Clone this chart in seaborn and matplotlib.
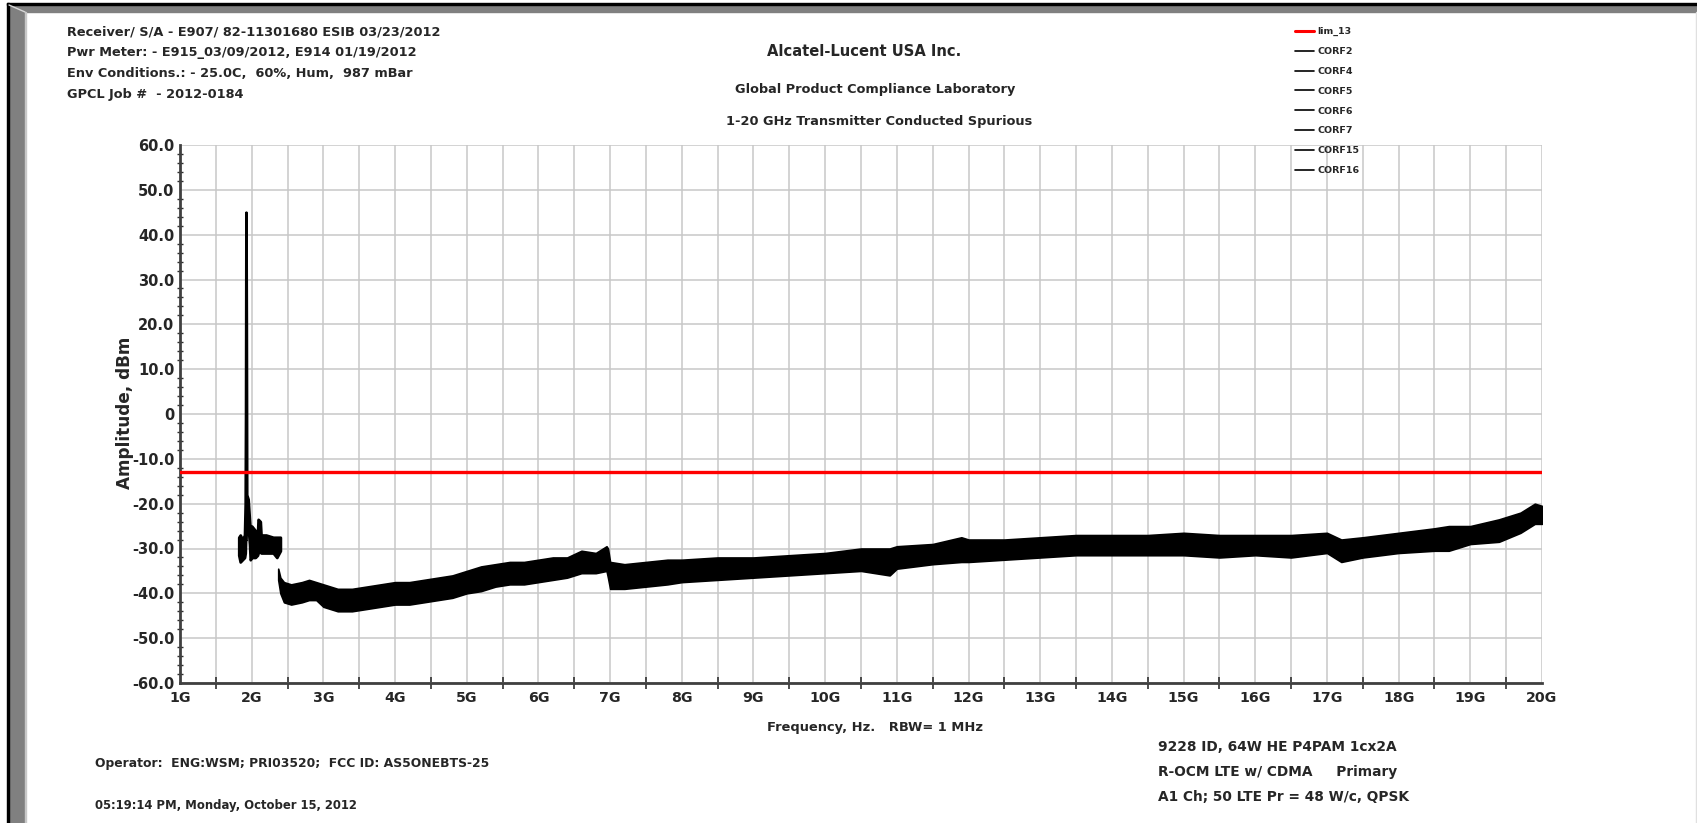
import matplotlib
matplotlib.use("Agg")
import matplotlib.pyplot as plt
from matplotlib.lines import Line2D
from matplotlib.patches import Rectangle
from matplotlib.ticker import MultipleLocator
import pandas as pd
import seaborn as sns

# Data (GHz / dBm) - envelope of the noisy sweep trace
freq_seg1 = [1.82, 1.84, 1.87, 1.90, 1.91, 1.915, 1.92, 1.925, 1.93, 1.95, 1.97, 1.98,
             2.00, 2.05, 2.08, 2.09, 2.12, 2.13, 2.20, 2.30, 2.35, 2.40]
upper_seg1 = [-27.5, -27.0, -28.0, -27.0, -20.0, 0.0, 45.0, 20.0, -18.0, -19.0, -24.0, -26.0,
              -25.0, -26.0, -27.0, -23.5, -24.0, -27.0, -27.0, -27.5, -27.5, -27.5]
lower_seg1 = [-31.5, -33.0, -32.5, -32.0, -31.0, -28.0, -28.0, -25.0, -26.0, -25.0, -29.0, -32.5,
              -32.0, -32.0, -31.5, -31.0, -30.0, -31.0, -31.0, -31.0, -32.0, -30.5]

freq_seg2 = [2.37, 2.40, 2.45, 2.55, 2.70, 2.80, 2.90, 3.00, 3.20, 3.40, 3.60, 3.80,
             4.00, 4.20, 4.40, 4.60, 4.80, 5.00, 5.20, 5.40, 5.60, 5.80, 6.00, 6.20,
             6.40, 6.60, 6.80, 6.95, 6.97, 7.00, 7.20, 7.50, 7.80, 8.00, 8.50, 9.00,
             9.50, 10.00, 10.50, 10.90, 11.00, 11.50, 11.90, 12.00, 12.50, 13.00, 13.50, 14.00,
             14.50, 15.00, 15.50, 16.00, 16.50, 17.00, 17.20, 17.50, 18.00, 18.50, 18.70, 19.00,
             19.40, 19.70, 19.90, 20.00]
upper_seg2 = [-34.5, -36.5, -37.5, -38.0, -37.5, -37.0, -37.5, -38.0, -39.0, -39.0, -38.5, -38.0,
              -37.5, -37.5, -37.0, -36.5, -36.0, -35.0, -34.0, -33.5, -33.0, -33.0, -32.5, -32.0,
              -32.0, -30.5, -31.0, -29.5, -30.0, -33.0, -33.5, -33.0, -32.5, -32.5, -32.0, -32.0,
              -31.5, -31.0, -30.0, -30.0, -29.5, -29.0, -27.5, -28.0, -28.0, -27.5, -27.0, -27.0,
              -27.0, -26.5, -27.0, -27.0, -27.0, -26.5, -28.0, -27.5, -26.5, -25.5, -25.0, -25.0,
              -23.5, -22.0, -20.0, -20.5]
lower_seg2 = [-37.0, -40.0, -42.0, -42.5, -42.0, -41.5, -41.5, -43.0, -44.0, -44.0, -43.5, -43.0,
              -42.5, -42.5, -42.0, -41.5, -41.0, -40.0, -39.5, -38.5, -38.0, -38.0, -37.5, -37.0,
              -36.5, -35.5, -35.5, -35.0, -36.5, -39.0, -39.0, -38.5, -38.0, -37.5, -37.0, -36.5,
              -36.0, -35.5, -35.0, -36.0, -34.5, -33.5, -33.0, -33.0, -32.5, -32.0, -31.5, -31.5,
              -31.5, -31.5, -32.0, -31.5, -32.0, -31.0, -33.0, -32.0, -31.0, -30.5, -30.5, -29.0,
              -28.5, -26.5, -24.5, -24.5]

limit_freq = [1.0, 20.0]
limit_level = [-13.0, -13.0]

x_ticks = list(range(1, 21))
x_tick_labels = [f"{g}G" for g in x_ticks]
y_ticks = list(range(-60, 61, 10))
y_tick_labels = ["0" if v == 0 else f"{v:.1f}" for v in y_ticks]

legend_labels = ["lim_13", "CORF2", "CORF4", "CORF5", "CORF6", "CORF7", "CORF15", "CORF16"]

header_left = ["Receiver/ S/A - E907/ 82-11301680 ESIB 03/23/2012",
               "Pwr Meter: - E915_03/09/2012, E914 01/19/2012",
               "Env Conditions.: - 25.0C,  60%, Hum,  987 mBar",
               "GPCL Job #  - 2012-0184"]
footer_right = ["9228 ID, 64W HE P4PAM 1cx2A",
                "R-OCM LTE w/ CDMA     Primary",
                "A1 Ch; 50 LTE Pr = 48 W/c, QPSK"]

W, H = 1697, 823


def fx(px):
    return px / W


def fy(py):
    return 1 - py / H


def main():
    sns.set_theme(style="white")
    plt.rcParams['font.family'] = ['DejaVu Sans']
    plt.rcParams['font.weight'] = 'bold'

    fig = plt.figure(figsize=(W / 100, H / 100), dpi=100)
    fig.patch.set_facecolor('white')

    # page frame (gray bevel on left / top)
    tf = fig.transFigure
    fig.patches.append(Rectangle((fx(9), 0), fx(16), fy(5), transform=tf,
                                 color='#808080', zorder=0))
    fig.patches.append(Rectangle((fx(9), fy(12)), 1, 7 / H, transform=tf,
                                 color='#808080', zorder=0))
    fig.patches.append(Rectangle((fx(24.5), 0), fx(1.2), fy(12), transform=tf,
                                 color='#c8c8c8', zorder=0))
    fig.patches.append(Rectangle((fx(7), 0), fx(2), fy(3), transform=tf,
                                 color='black', zorder=1))
    fig.patches.append(Rectangle((fx(7), fy(5)), 1, 2 / H, transform=tf,
                                 color='black', zorder=1))
    fig.patches.append(Rectangle((fx(1695.5), 0), fx(1.5), fy(12), transform=tf,
                                 color='#e0e0e0', zorder=0))
    fig.lines.append(Line2D([fx(9), fx(25)], [fy(5), fy(12)], transform=tf,
                            color='#d8d8d8', lw=1))

    ax = fig.add_axes([fx(180), fy(683), fx(1542 - 180), (683 - 145) / H])

    # sweep trace envelopes
    ax.fill_between(freq_seg1, lower_seg1, upper_seg1, color='black', lw=2.0, zorder=3)
    ax.fill_between(freq_seg2, lower_seg2, upper_seg2, color='black', lw=1.2, zorder=3)

    limit_df = pd.DataFrame({'freq': limit_freq, 'amp': limit_level})
    sns.lineplot(data=limit_df, x='freq', y='amp', color='#ff0000', lw=2.4, ax=ax, zorder=4)

    ax.set_xlim(1, 20)
    ax.set_ylim(-60, 60)
    ax.set_xticks(x_ticks)
    ax.set_xticklabels(x_tick_labels)
    ax.set_yticks(y_ticks)
    ax.set_yticklabels(y_tick_labels)
    ax.xaxis.set_minor_locator(MultipleLocator(0.5))
    ax.yaxis.set_minor_locator(MultipleLocator(2))
    ax.grid(True, which='major', axis='y', color='#c8c8c8', lw=1.1)
    ax.grid(True, which='both', axis='x', color='#c8c8c8', lw=1.1)
    ax.set_axisbelow(True)
    ax.set_xlabel('')
    ax.set_ylabel('')

    for side in ['top', 'right']:
        ax.spines[side].set_visible(False)
    for side in ['left', 'bottom']:
        ax.spines[side].set_color('#404040')
        ax.spines[side].set_linewidth(2)

    ax.tick_params(axis='both', which='major', direction='inout', length=8, width=1.2,
                   color='#303030')
    ax.tick_params(axis='y', which='minor', direction='inout', length=5, width=1,
                   color='#303030', left=True)
    ax.tick_params(axis='x', which='minor', direction='inout', length=8, width=1.2,
                   color='#303030', bottom=True)
    ax.tick_params(axis='x', which='major', pad=2, labelsize=10.2)
    ax.tick_params(axis='y', which='major', pad=0, labelsize=10.5)
    for lab in ax.get_xticklabels() + ax.get_yticklabels():
        lab.set_fontweight('bold')

    # header text
    for i, line in enumerate(header_left):
        fig.text(fx(67), fy(32 + i * 20.7), line, fontsize=9.3, fontweight='bold',
                 va='center', ha='left')
    fig.text(fx(864), fy(51), 'Alcatel-Lucent USA Inc.', fontsize=10.6, fontweight='bold',
             va='center', ha='center')
    fig.text(fx(875), fy(90), 'Global Product Compliance Laboratory', fontsize=9.3,
             fontweight='bold', va='center', ha='center')
    fig.text(fx(879), fy(122), '1-20 GHz Transmitter Conducted Spurious', fontsize=9.3,
             fontweight='bold', va='center', ha='center')

    # axis labels
    fig.text(fx(125), fy(413), 'Amplitude, dBm', fontsize=12.2, fontweight='bold',
             rotation=90, va='center', ha='center')
    fig.text(fx(875), fy(727), 'Frequency, Hz.   RBW= 1 MHz', fontsize=9.4,
             fontweight='bold', va='center', ha='center')

    # footer text
    fig.text(fx(95), fy(764), 'Operator:  ENG:WSM; PRI03520;  FCC ID: AS5ONEBTS-25',
             fontsize=8.9, fontweight='bold', va='center', ha='left')
    fig.text(fx(95), fy(806), '05:19:14 PM, Monday, October 15, 2012',
             fontsize=8.4, fontweight='bold', va='center', ha='left')
    for i, line in enumerate(footer_right):
        fig.text(fx(1158), fy(747 + i * 25), line, fontsize=9.9, fontweight='bold',
                 va='center', ha='left')

    # legend
    handles = [Line2D([], [], color='#ff0000', lw=2.2)]
    handles += [Line2D([], [], color='black', lw=1.2) for _ in legend_labels[1:]]
    leg = fig.legend(handles, legend_labels, loc='upper left',
                     bbox_to_anchor=(fx(1295), fy(27)), frameon=False, fontsize=6.8,
                     handlelength=2.0, handletextpad=0.35, labelspacing=1.15,
                     borderaxespad=0, borderpad=0)
    for t in leg.get_texts():
        t.set_fontweight('bold')

    fig.savefig('out.png', dpi=100, facecolor='white')
    plt.close(fig)


if __name__ == "__main__":
    main()
